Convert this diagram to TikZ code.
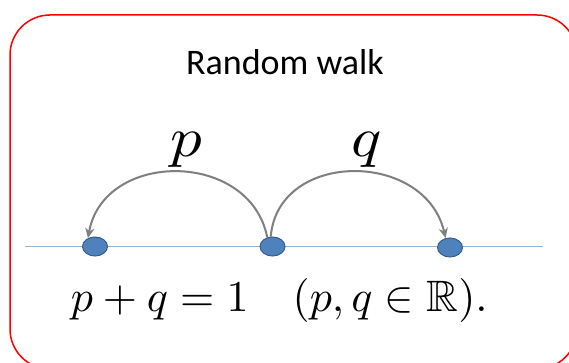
\documentclass[tikz,border=0pt]{standalone}
\usepackage{amsmath,amssymb}
\usepackage{fontspec}
\newfontfamily\calib{Carlito}
\usetikzlibrary{shapes.geometric,arrows.meta}
\definecolor{dotfill}{HTML}{4F81BD}
\definecolor{dotline}{HTML}{385D8A}
\definecolor{axisblue}{HTML}{95B3D7}
\definecolor{arcgray}{HTML}{7F7F7F}
\tikzset{
  dotnode/.style={ellipse,minimum width=25pt,minimum height=19pt,inner sep=0pt,fill=dotfill,draw=dotline,line width=1pt},
  hop/.style={draw=arcgray,line width=2pt,-{Stealth[length=10pt,width=9pt,inset=3pt]}},
  axis/.style={draw=axisblue,line width=1.6pt},
  frame/.style={draw=red,line width=1.5pt,rounded corners=40pt},
  hoplabel/.style={anchor=base,inner sep=0pt,xscale=6.3,yscale=5.6}
}
\begin{document}
\begin{tikzpicture}[x=1pt,y=-1pt]
\useasboundingbox (0,0) rectangle (569,363);
\clip (0,0) rectangle (569,363);
\fill[white] (0,0) rectangle (569,363);
\draw[frame] (10,15) rectangle (577,369);
\node[anchor=base,inner sep=0pt] (title) at (285,75) {\calib\fontsize{36}{40}\selectfont Random walk};
\coordinate (la) at (25,246.5);
\coordinate (lb) at (543,246.5);
\draw[axis] (la) -- (lb);
\node[dotnode] (d1) at (95,246.5) {};
\node[dotnode] (d2) at (272.5,246.5) {};
\node[dotnode] (d3) at (450,247.5) {};
\draw[hop] (d2.120) .. controls (250,150) and (104,150) .. (d1.130);
\draw[hop] (d2.100) .. controls (278,150) and (425,150) .. (d3.115);
\node[hoplabel] (lp) at (186,157) {$p$};
\node[hoplabel] (lq) at (367,157) {$q$};
\node[anchor=base west,inner sep=0pt,scale=4.4] (eq) at (70,311) {$p+q=1\quad(p,q\in\mathbb{R}).$};
\end{tikzpicture}
\end{document}
